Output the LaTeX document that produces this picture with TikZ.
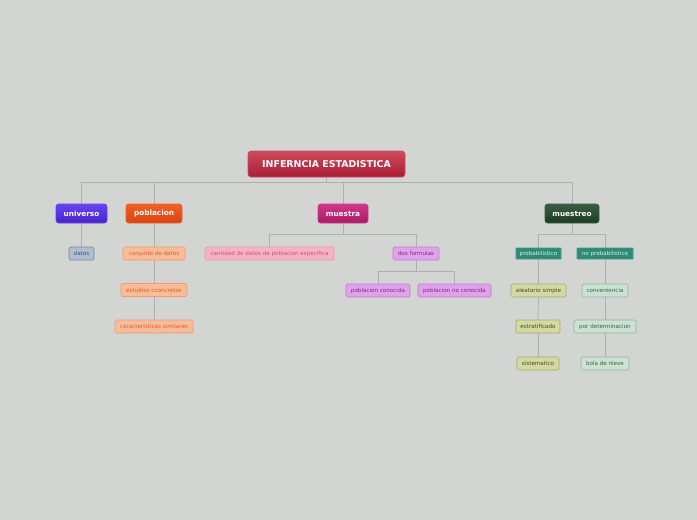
\documentclass[tikz,border=0pt]{standalone}
\usepackage{fontspec}
\setmainfont{DejaVu Sans}
\definecolor{bg}{HTML}{D3D5D2}
\definecolor{lnc}{HTML}{AEAFAE}
\pgfdeclarelayer{bgl}
\pgfdeclarelayer{lines}
\pgfsetlayers{bgl,lines,main}
\tikzset{
  x=1pt,y=-1pt,
  base/.style={rectangle,inner sep=0pt,align=center},
  rootbox/.style={base,rounded corners=3pt,top color=rootT,bottom color=rootB,draw=rootdraw,line width=0.6pt,text=white,font=\fontsize{9.4}{10}\selectfont\bfseries,minimum width=157,minimum height=26},
  mainbox/.style={base,rounded corners=2.5pt,line width=0.6pt,text=white,font=\fontsize{7.3}{8}\selectfont\bfseries,minimum height=19},
  leaf/.style={base,rounded corners=1.5pt,line width=0.7pt,font=\fontsize{5.6}{6}\selectfont,minimum height=13},
  conn/.style={draw=lnc,line width=0.8pt},
}
\definecolor{rootT}{HTML}{D04A5E}
\definecolor{rootB}{HTML}{A81E36}
\definecolor{rootdraw}{HTML}{C0506A}
\definecolor{uniT}{HTML}{6644EE}\definecolor{uniB}{HTML}{4422CC}
\definecolor{pobT}{HTML}{F06028}\definecolor{pobB}{HTML}{D84410}
\definecolor{musT}{HTML}{D03888}\definecolor{musB}{HTML}{A81A68}
\definecolor{mstT}{HTML}{3A5E42}\definecolor{mstB}{HTML}{1E3A24}
\definecolor{datF}{HTML}{AFBFD3}\definecolor{datD}{HTML}{7E8894}\definecolor{datT}{HTML}{405068}
\definecolor{orF}{HTML}{F7BC98}\definecolor{orD}{HTML}{F09A78}\definecolor{orT}{HTML}{E45A2A}
\definecolor{pkF}{HTML}{F4B4C4}\definecolor{pkD}{HTML}{EC98AC}\definecolor{pkT}{HTML}{D04C7C}
\definecolor{viF}{HTML}{E0A2EA}\definecolor{viD}{HTML}{C07CCC}\definecolor{viT}{HTML}{7A2A8A}
\definecolor{tlF}{HTML}{2E8A76}\definecolor{tlD}{HTML}{3A9C88}\definecolor{tlT}{HTML}{D8F4EC}
\definecolor{olF}{HTML}{D2DAA2}\definecolor{olD}{HTML}{A2AA72}\definecolor{olT}{HTML}{4A4A1A}
\definecolor{gnF}{HTML}{CBE2D2}\definecolor{gnD}{HTML}{94B4A2}\definecolor{gnT}{HTML}{3E5E4E}
\begin{document}
\begin{tikzpicture}
\begin{pgfonlayer}{bgl}
\fill[bg] (0,0) rectangle (697,520);
\end{pgfonlayer}
\useasboundingbox (0,0) rectangle (697,520);
\coordinate (hb) at (326.5,182);
\coordinate (hl) at (81.5,182);
\coordinate (hr) at (572,182);
\coordinate (mh) at (343,234);
\coordinate (fh) at (416,271);
\coordinate (sh) at (572,234);

\node[rootbox] (root) at (326.5,164) {INFERNCIA ESTADISTICA};
\node[mainbox,minimum width=51,top color=uniT,bottom color=uniB,draw=uniT] (uni) at (81.5,213.5) {universo};
\node[mainbox,minimum width=56,top color=pobT,bottom color=pobB,draw=pobT] (pob) at (154,213.5) {poblacion};
\node[mainbox,minimum width=50,top color=musT,bottom color=musB,draw=musT] (mue) at (343,213.5) {muestra};
\node[mainbox,minimum width=54,top color=mstT,bottom color=mstB,draw=mstT] (mst) at (572,213.5) {muestreo};

\node[leaf,minimum width=25,fill=datF,draw=datD,text=datT] (dat) at (81.5,253.5) {datos};
\node[leaf,minimum width=62,fill=orF,draw=orD,text=orT] (con) at (154,253.5) {conjunto de datos};
\node[leaf,minimum width=66,fill=orF,draw=orD,text=orT] (est) at (154,290) {estudios cconcretos};
\node[leaf,minimum width=78,fill=orF,draw=orD,text=orT] (car) at (154,326.5) {caracteristicas similares};

\node[leaf,minimum width=129,fill=pkF,draw=pkD,text=pkT] (can) at (269.5,253.5) {cantidad de datos de poblacion especifica};
\node[leaf,minimum width=46,fill=viF,draw=viD,text=viT] (dos) at (416,253.5) {dos formulas};
\node[leaf,minimum width=64,fill=viF,draw=viD,text=viT] (pco) at (378,290.5) {poblacion conocida};
\node[leaf,minimum width=73,fill=viF,draw=viD,text=viT] (pnc) at (454.5,290.5) {poblacion no conocida};

\node[leaf,minimum width=45,minimum height=11,rounded corners=0.5pt,fill=tlF,draw=tlD,text=tlT] (pro) at (538.5,253.5) {probabilistico};
\node[leaf,minimum width=56,minimum height=11,rounded corners=0.5pt,fill=tlF,draw=tlD,text=tlT] (npr) at (605,253.5) {no probabilistico};
\node[leaf,minimum width=55,fill=olF,draw=olD,text=olT] (ale) at (538.5,290.5) {aleatorio simple};
\node[leaf,minimum width=44,fill=olF,draw=olD,text=olT] (etr) at (538,326.5) {estratificado};
\node[leaf,minimum width=42,fill=olF,draw=olD,text=olT] (sis) at (538,363.5) {sistematico};
\node[leaf,minimum width=46,fill=gnF,draw=gnD,text=gnT] (cnv) at (605,290.5) {conveniencia};
\node[leaf,minimum width=62,fill=gnF,draw=gnD,text=gnT] (pdt) at (605,326.5) {por determinacion};
\node[leaf,minimum width=48,fill=gnF,draw=gnD,text=gnT] (bol) at (605,363.5) {bola de nieve};

\begin{pgfonlayer}{lines}
\draw[conn] (root.south) -- (hb);
\draw[conn] (uni.north) -- (hl) -- (hr) -- (mst.north);
\draw[conn] (pob.north) -- (pob.north |- hb);
\draw[conn] (mue.north) -- (mue.north |- hb);
\draw[conn] (uni.south) -- (dat.north);
\draw[conn] (pob.south) -- (con.north);
\draw[conn] (con.south) -- (est.north);
\draw[conn] (est.south) -- (car.north);
\draw[conn] (mue.south) -- (mh);
\draw[conn] (can.north) -- (can.north |- mh) -- (dos.north |- mh) -- (dos.north);
\draw[conn] (dos.south) -- (fh);
\draw[conn] (pco.north) -- (pco.north |- fh) -- (pnc.north |- fh) -- (pnc.north);
\draw[conn] (mst.south) -- (sh);
\draw[conn] (pro.north) -- (pro.north |- sh) -- (npr.north |- sh) -- (npr.north);
\draw[conn] (pro.south) -- (ale.north);
\draw[conn] (ale.south) -- (etr.north);
\draw[conn] (etr.south) -- (sis.north);
\draw[conn] (npr.south) -- (cnv.north);
\draw[conn] (cnv.south) -- (pdt.north);
\draw[conn] (pdt.south) -- (bol.north);
\end{pgfonlayer}
\end{tikzpicture}
\end{document}
